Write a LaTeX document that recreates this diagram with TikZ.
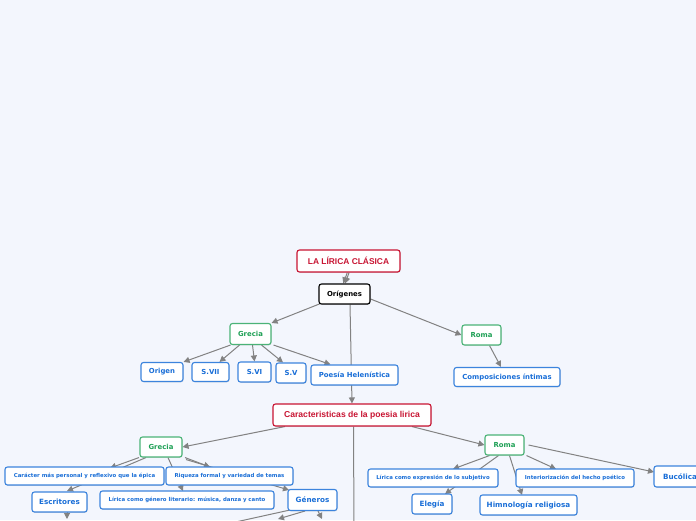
\documentclass[tikz,border=0pt]{standalone}
\usepackage{fontspec}
\setmainfont{DejaVu Sans}
\newfontfamily\arialf{Liberation Sans}
\usetikzlibrary{arrows.meta,backgrounds,shadows}
\definecolor{bgc}{RGB}{243,246,253}
\definecolor{redc}{RGB}{200,20,50}
\definecolor{greenc}{RGB}{30,160,85}
\definecolor{bluec}{RGB}{25,110,215}
\definecolor{edgec}{RGB}{130,130,130}
\tikzset{
  box/.style={draw, rounded corners=2.5pt, fill=white, line width=1.1pt, inner sep=0pt, align=center, font=\bfseries,
     drop shadow={shadow xshift=0.6pt, shadow yshift=-0.8pt, opacity=0.25}},
  redbox/.style={box, draw=redc, text=redc, font=\arialf\bfseries},
  blackbox/.style={box, draw=black, text=black},
  greenbox/.style={box, draw=greenc!80, text=greenc},
  bluebox/.style={box, draw=bluec!85, text=bluec},
  fs/.style={font=\fontsize{#1}{#1}\selectfont\bfseries},
  link/.style={draw=edgec, line width=1pt, -{Triangle[width=6pt,length=6pt]}},
  plain/.style={draw=edgec, line width=1pt},
}
\begin{document}
\begin{tikzpicture}[x=1pt,y=-1pt]
\useasboundingbox (0,0) rectangle (696,520);
\begin{scope}
\clip (0,0) rectangle (696,520);
% nodes
\node[redbox, minimum width=103, minimum height=22, font=\arialf\fontsize{8.4}{9}\selectfont\bfseries] (lirica) at (348.5,261) {LA LÍRICA CLÁSICA};
\node[blackbox, minimum width=51, minimum height=20, fs=6.9] (orig) at (344.5,294) {Orígenes};
\node[greenbox, minimum width=41, minimum height=21, fs=6.9] (grecia1) at (250.5,334) {Grecia};
\node[greenbox, minimum width=39, minimum height=20, fs=6.9] (roma1) at (481.5,335) {Roma};
\node[bluebox, minimum width=42, minimum height=19, fs=6.9] (origen) at (162,372) {Origen};
\node[bluebox, minimum width=37, minimum height=19, fs=6.9] (svii) at (210.5,372) {S.VII};
\node[bluebox, minimum width=33, minimum height=20, fs=6.9] (svi) at (254.5,372) {S.VI};
\node[bluebox, minimum width=30, minimum height=20, fs=6.9] (sv) at (291,373) {S.V};
\node[bluebox, minimum width=87, minimum height=20, fs=6.9] (helen) at (354.5,375) {Poesía Helenística};
\node[bluebox, minimum width=106, minimum height=19, fs=6.9] (intimas) at (507,377) {Composiciones íntimas};
\node[redbox, minimum width=158, minimum height=22, font=\arialf\fontsize{8.6}{9}\selectfont\bfseries] (carac) at (352,415) {Caracteristicas de la poesia lirica};
\node[greenbox, minimum width=42, minimum height=20, fs=6.9] (grecia2) at (161,447) {Grecia};
\node[greenbox, minimum width=39, minimum height=20, fs=6.9] (roma2) at (504.5,445) {Roma};
% edges
\begin{pgfonlayer}{background}
\fill[bgc] (0,0) rectangle (696,520);
\coordinate (gdown) at (354,530);
\coordinate (edown) at (67,519);
\coordinate (g1) at (222,525);
\coordinate (g2) at (278,519);
\coordinate (g3) at (322,519);
\draw[link] ([xshift=-1.2pt]lirica.south) -- ([xshift=-1.2pt]orig.north);
\draw[link] ([xshift=0.6pt]lirica.south) -- ([xshift=0.6pt]orig.north);
\draw[link] (orig.south west) ++(2,-1) -- (grecia1.north east);
\draw[link] (orig.east) ++(0,5) -- (roma1.west);
\draw[link] ([xshift=5.5pt]orig.south) -- ([xshift=0pt]carac.north);
\draw[link] ([xshift=-20pt]grecia1.south) -- (origen.north east);
\draw[link] ([xshift=-11pt]grecia1.south) -- ([xshift=9pt]svii.north);
\draw[link] ([xshift=2pt]grecia1.south) -- ([xshift=0pt]svi.north);
\draw[link] ([xshift=11pt]grecia1.south) -- ([xshift=-8pt]sv.north);
\draw[link] (grecia1.south east) ++(2,0) -- ([xshift=-24pt]helen.north);
\draw[link] ([xshift=8pt]roma1.south) -- ([xshift=-6pt]intimas.north);
\draw[link] ([xshift=-67pt]carac.south) -- (grecia2.east);
\draw[link] ([xshift=60pt]carac.south) -- (roma2.west);
\draw[plain] ([xshift=1.5pt]carac.south) -- (gdown);
% Grecia2 children
\draw[link] ([xshift=-22pt]grecia2.south) -- (110,468);
\draw[link] ([xshift=-15pt]grecia2.south) -- (edown |- 0,491);
\draw[link] ([xshift=7pt]grecia2.south) -- (183,491);
\draw[link] ([xshift=24pt]grecia2.south) -- (210,467);
\draw[link] ([xshift=25pt,yshift=-2pt]grecia2.south) -- (289,490);
% Roma2 children
\draw[link] ([xshift=-15pt]roma2.south) -- (453,469);
\draw[link] ([xshift=-6pt]roma2.south) -- (445,494);
\draw[link] ([xshift=5pt]roma2.south) -- (522,495);
\draw[link] ([xshift=22pt]roma2.south) -- (556,469);
\draw[link] (roma2.east) ++(4,0) -- (654,472);
% Escritores / Generos children
\draw[link] (67,512) -- (edown);
\draw[plain] (290,510) -- (g1);
\draw[link] (305,511) -- (g2);
\draw[link] (318,511) -- (g3);
\end{pgfonlayer}
\node[bluebox, minimum width=159, minimum height=18, fs=5.4] (pers) at (84.5,476) {Carácter más personal y reflexivo que la épica};
\node[bluebox, minimum width=127, minimum height=18, fs=5.4] (riq) at (229.5,476) {Riqueza formal y variedad de temas};
\node[bluebox, minimum width=55, minimum height=20, fs=7.2] (escr) at (59.5,502) {Escritores};
\node[bluebox, minimum width=174, minimum height=18, fs=5.4] (musica) at (187,500) {Lírica como género literario: música, danza y canto};
\node[bluebox, minimum width=49, minimum height=21, fs=7.2] (gen) at (312.5,500) {Géneros};
\node[bluebox, minimum width=130, minimum height=18, fs=5.4] (subj) at (433,478) {Lírica como expresión de lo subjetivo};
\node[bluebox, minimum width=118, minimum height=18, fs=5.4] (inter) at (575,478) {Interiorización del hecho poético};
\node[bluebox, minimum width=52, minimum height=21, fs=7.2] (buco) at (680,476.5) {Bucólica};
\node[bluebox, minimum width=40, minimum height=20, fs=7.2] (eleg) at (432,504) {Elegía};
\node[bluebox, minimum width=97, minimum height=20, fs=7.2] (himn) at (528.5,505) {Himnología religiosa};
\end{scope}
\end{tikzpicture}
\end{document}
